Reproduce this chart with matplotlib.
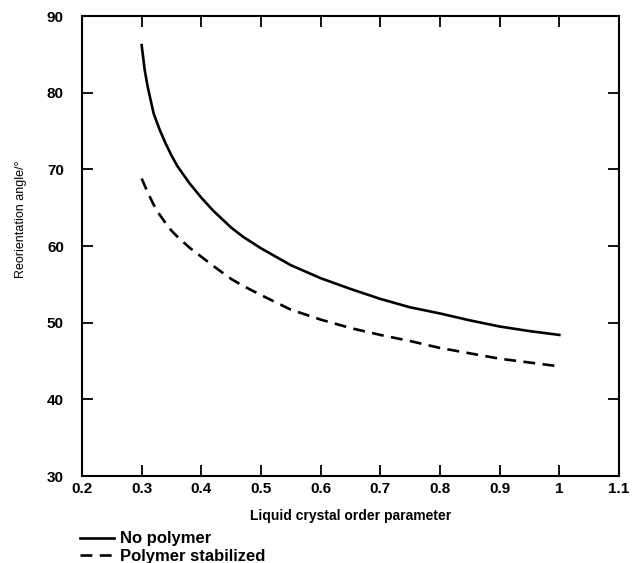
from matplotlib import pyplot as plt

# Order parameter values
order_param = [0.30, 0.305, 0.31, 0.32, 0.33, 0.34, 0.35, 0.36, 0.38, 0.40,
               0.42, 0.45, 0.47, 0.50, 0.55, 0.60, 0.65, 0.70, 0.75, 0.80,
               0.85, 0.90, 0.95, 1.00]

# Reorientation angle [deg]
no_polymer = [86.2, 83.0, 80.8, 77.3, 75.2, 73.4, 71.8, 70.4, 68.2, 66.3,
              64.6, 62.4, 61.2, 59.7, 57.5, 55.8, 54.4, 53.1, 52.0, 51.2,
              50.3, 49.5, 48.9, 48.4]
polymer_stab = [68.8, 67.9, 67.0, 65.4, 64.1, 63.0, 62.0, 61.2, 59.8, 58.6,
                57.4, 55.7, 54.8, 53.6, 51.7, 50.4, 49.3, 48.4, 47.6, 46.7,
                46.0, 45.3, 44.8, 44.3]

x_ticks = [0.2, 0.3, 0.4, 0.5, 0.6, 0.7, 0.8, 0.9, 1.0, 1.1]
x_labels = ['0.2', '0.3', '0.4', '0.5', '0.6', '0.7', '0.8', '0.9', '1', '1.1']
y_ticks = [30, 40, 50, 60, 70, 80, 90]

plt.rcParams['font.family'] = ['Liberation Sans', 'DejaVu Sans']

fig = plt.figure(figsize=(6.33, 5.63), dpi=100)
ax = fig.add_axes([82 / 633, 1 - 476 / 563, 537 / 633, 460 / 563])

ax.plot(order_param, no_polymer, color='black', lw=1.9, label='No polymer')
ax.plot(order_param, polymer_stab, color='black', lw=1.9,
        dashes=(4.5, 2.8), label='Polymer stabilized')

ax.set_xlim(0.2, 1.1)
ax.set_ylim(30, 90)
ax.set_xticks(x_ticks)
ax.set_xticklabels(x_labels, fontweight='bold', fontsize=11)
ax.set_yticks(y_ticks)
ax.set_yticklabels([str(v) for v in y_ticks], fontweight='bold', fontsize=11)
ax.tick_params(direction='in', length=8, width=1.3, top=True, right=True)
ax.tick_params(axis='x', pad=4)
ax.tick_params(axis='y', pad=13)
for s in ax.spines.values():
    s.set_linewidth(1.5)

ax.set_xlabel('Liquid crystal order parameter', fontweight='bold',
              fontsize=10, labelpad=10)
ax.set_ylabel('Reorientation angle/\u00b0', fontsize=9)
ax.yaxis.set_label_coords((27 - 82) / 537, (476 - 219) / 460)

fig.legend(loc='upper left', bbox_to_anchor=(72 / 633, 1 - 523 / 563),
           frameon=False, handlelength=2.0, handletextpad=0.4,
           labelspacing=0.15, borderpad=0,
           prop={'weight': 'bold', 'size': 12})

fig.savefig('out.png')
